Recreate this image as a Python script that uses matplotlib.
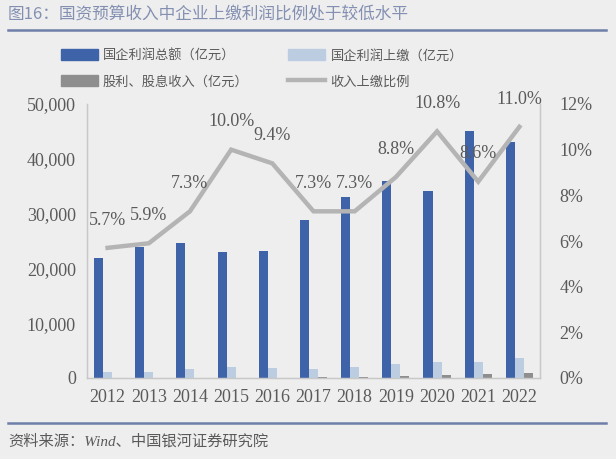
import numpy as np
import matplotlib
matplotlib.use("Agg")
import matplotlib.pyplot as plt
from matplotlib.patches import Patch
from matplotlib.lines import Line2D

plt.rcParams['font.family'] = ['Liberation Serif', 'Noto Sans CJK SC', 'DejaVu Sans']

years = ['2012', '2013', '2014', '2015', '2016', '2017', '2018', '2019', '2020', '2021', '2022']
# 国企利润总额（亿元）
profit_total = [21960, 23900, 24700, 23000, 23100, 28900, 33000, 35900, 34200, 45100, 43100]
# 国企利润上缴（亿元）
profit_paid = [1100, 1100, 1600, 2000, 1900, 1700, 2000, 2600, 2900, 2900, 3600]
# 股利、股息收入（亿元）
dividends = [0, 0, 0, 50, 50, 100, 150, 400, 500, 700, 900]
# 收入上缴比例 (%)
ratio = [5.7, 5.9, 7.3, 10.0, 9.4, 7.3, 7.3, 8.8, 10.8, 8.6, 11.0]

bg = '#eeeeee'
c_dark = '#3f63a8'
c_light = '#bccde2'
c_gray = '#8e8e8e'
c_line = '#b4b4b4'
c_text = '#5a5a5a'
c_title = '#8490b2'
c_rule = '#6f7fa8'

fig = plt.figure(figsize=(6.16, 4.59), dpi=100, facecolor=bg)
ax = fig.add_axes([87/616, 81/459, 453/616, 274/459], facecolor=bg)
ax2 = ax.twinx()

x = np.arange(len(years))
w = 0.22
ax.bar(x - w, profit_total, w, color=c_dark, zorder=2)
ax.bar(x, profit_paid, w, color=c_light, zorder=2)
ax.bar(x + w, dividends, w, color=c_gray, zorder=2)

ax2.plot(x, ratio, color=c_line, lw=3.2, zorder=3, solid_joinstyle='miter')
for xi, r in zip(x, ratio):
    ax2.annotate(f'{r:.1f}%', (xi, r), xytext=(0, 20), textcoords='offset points',
                 ha='center', va='center', fontsize=13, color=c_text)

ax.set_xlim(-0.5, len(years) - 0.5)
ax.set_ylim(0, 50000)
ax.set_yticks(np.arange(0, 50001, 10000))
ax.set_yticklabels([f'{v:,}' for v in range(0, 50001, 10000)])
ax.set_xticks(x)
ax.set_xticklabels(years)
ax2.set_ylim(0, 12)
ax2.set_yticks(np.arange(0, 13, 2))
ax2.set_yticklabels([f'{v}%' for v in range(0, 13, 2)])

for a in (ax, ax2):
    a.tick_params(length=0, labelsize=13, colors=c_text)
    a.spines['top'].set_visible(False)
    for s in ('left', 'right', 'bottom'):
        a.spines[s].set_color('#c8c8c8')
        a.spines[s].set_linewidth(0.9)
ax.tick_params(axis='y', pad=8)
ax2.tick_params(axis='y', pad=14)
ax.tick_params(axis='x', pad=8)
ax2.set_zorder(ax.get_zorder() + 1)
ax2.patch.set_visible(False)

handles = [Patch(color=c_dark), Patch(color=c_gray), Patch(color=c_light),
           Line2D([], [], color=c_line, lw=3.2)]
labels = ['国企利润总额（亿元）', '股利、股息收入（亿元）', '国企利润上缴（亿元）', '收入上缴比例']
leg = fig.legend(handles, labels, ncol=2, loc='center', bbox_to_anchor=(0.425, 0.85),
                 frameon=False, prop={'family': ['Noto Sans CJK SC'], 'size': 9.5},
                 handlelength=2.8, handleheight=0.9, handletextpad=0.4,
                 columnspacing=3.0, labelspacing=1.0, borderpad=0)
for t in leg.get_texts():
    t.set_color(c_text)

fig.text(8/616, 1 - 15/459, '图16：国资预算收入中企业上缴利润比例处于较低水平',
         family=['Noto Sans CJK SC'], fontsize=12, color=c_title,
         va='center', ha='left')
fig.add_artist(Line2D([8/616, 606/616], [1 - 30/459, 1 - 30/459], color=c_rule, lw=1.8))
fig.add_artist(Line2D([8/616, 606/616], [1 - 423/459, 1 - 423/459], color=c_rule, lw=1.8))
fig.text(8/616, 1 - 441/459, '资料来源：Wind、中国银河证券研究院',
         family=['Liberation Serif', 'Noto Sans CJK SC'], fontsize=11,
         color=c_text, va='center', ha='left', style='italic')

fig.savefig('out.png', dpi=100, facecolor=bg)
